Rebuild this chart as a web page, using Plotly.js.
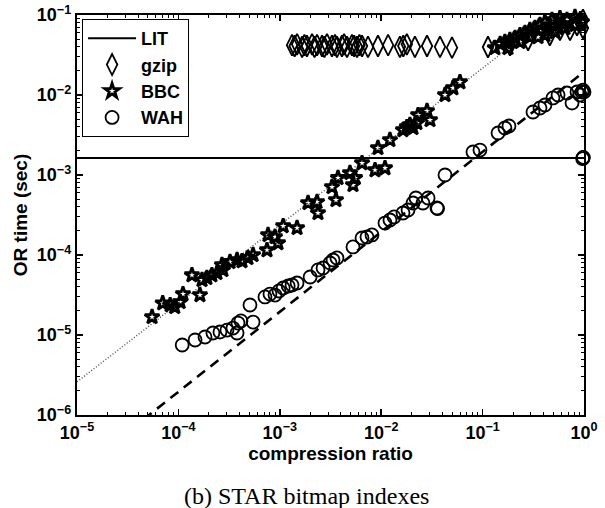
<!DOCTYPE html>
<html>
<head>
<meta charset="utf-8">
<script src="https://cdn.plot.ly/plotly-3.0.1.min.js"></script>
<style>
  html, body { margin: 0; padding: 0; background: #fff; }
  #chart { width: 605px; height: 508px; }
</style>
</head>
<body>
<div id="chart"></div>
<script>
// OR time vs. compression ratio, STAR bitmap indexes (log-log)

// LIT: constant reference time
const litX = [1e-5, 1];
const litY = [1.63e-3, 1.63e-3];

// gzip
const gzipX = [1.32e-3, 1.4e-3, 1.48e-3, 1.66e-3, 1.75e-3, 1.85e-3, 2.08e-3, 2.2e-3, 2.33e-3, 2.61e-3,
  2.75e-3, 2.92e-3, 3.27e-3, 3.5e-3, 3.66e-3, 4.1e-3, 4.3e-3, 4.6e-3, 5.15e-3, 5.4e-3,
  5.77e-3, 6.1e-3, 6.47e-3, 7.41e-3, 9.29e-3, 1.17e-2, 1.53e-2, 1.65e-2, 1.79e-2, 2.15e-2,
  2.83e-2, 3.8e-2, 4.99e-2,
  0.113, 0.186, 0.281, 0.46, 0.579, 0.728, 0.853, 0.914, 0.977, 0.977];
const gzipY = [0.042, 0.041, 0.043, 0.040, 0.042, 0.041, 0.043, 0.040, 0.042, 0.041,
  0.040, 0.043, 0.041, 0.042, 0.040, 0.041, 0.043, 0.040, 0.042, 0.041,
  0.040, 0.042, 0.041, 0.040, 0.041, 0.042, 0.040, 0.041, 0.043, 0.040,
  0.041, 0.040, 0.039,
  0.0398, 0.042, 0.0487, 0.0562, 0.065, 0.065, 0.075, 0.0818, 0.0866, 0.0688];

// BBC
const bbcX = [5.5e-5, 7.0e-5, 8.3e-5, 9.2e-5, 1.04e-4, 1.11e-4, 1.36e-4, 1.63e-4, 1.71e-4, 1.91e-4,
  2.14e-4, 2.40e-4, 2.69e-4, 2.75e-4, 3.23e-4, 3.79e-4, 4.24e-4, 4.85e-4, 5.45e-4, 7.48e-4,
  7.66e-4, 8.97e-4, 9.6e-4, 1.08e-3, 1.48e-3, 1.90e-3, 2.33e-3, 2.38e-3, 3.27e-3, 3.58e-3,
  3.75e-3, 4.92e-3, 5.27e-3, 5.52e-3, 6.47e-3, 8.69e-3, 1.09e-2, 9.29e-3, 1.22e-2, 1.64e-2,
  1.79e-2, 1.92e-2, 2.06e-2, 2.25e-2, 2.31e-2, 2.83e-2, 3.03e-2, 4.26e-2, 5.1e-2, 5.98e-2,
  0.132, 0.149, 0.166, 0.186, 0.209, 0.234, 0.262, 0.293, 0.329, 0.293,
  0.368, 0.412, 0.442, 0.483, 0.518, 0.579, 0.621, 0.679, 0.728, 0.815,
  0.873, 0.955, 0.955, 0.815, 0.65, 0.518, 0.412, 0.352, 0.234, 0.178];
const bbcY = [1.68e-5, 2.5e-5, 2.37e-5, 2.24e-5, 2.59e-5, 3.25e-5, 5.6e-5, 3.16e-5, 4.87e-5, 5.16e-5,
  5.6e-5, 5.96e-5, 7.5e-5, 6.5e-5, 8.2e-5, 8.66e-5, 8.4e-5, 9.2e-5, 1.0e-4, 1.15e-4,
  1.78e-4, 1.68e-4, 1.41e-4, 2.30e-4, 2.18e-4, 4.47e-4, 4.6e-4, 3.35e-4, 7.08e-4, 4.87e-4,
  9.2e-4, 1.06e-3, 7.5e-4, 9.2e-4, 1.41e-3, 1.15e-3, 1.22e-3, 2.18e-3, 2.74e-3, 3.65e-3,
  3.98e-3, 4.22e-3, 3.87e-3, 4.47e-3, 5.62e-3, 6.31e-3, 4.87e-3, 1.0e-2, 1.22e-2, 1.45e-2,
  0.0387, 0.0434, 0.046, 0.0487, 0.0516, 0.0562, 0.0596, 0.065, 0.0688, 0.0531,
  0.075, 0.0818, 0.065, 0.0866, 0.0729, 0.0917, 0.0772, 0.0866, 0.1, 0.0944,
  0.109, 0.103, 0.0818, 0.075, 0.0688, 0.0613, 0.0562, 0.0531, 0.046, 0.0387];

// WAH
const wahX = [1.09e-4, 1.46e-4, 1.83e-4, 2.19e-4, 2.57e-4, 3.01e-4, 3.45e-4, 3.79e-4, 3.87e-4, 4.14e-4,
  5.45e-4, 5.08e-4, 7.14e-4, 8.0e-4, 8.97e-4, 9.82e-4, 1.08e-3, 1.21e-3, 1.32e-3, 1.48e-3,
  1.99e-3, 2.38e-3, 2.67e-3, 3.13e-3, 3.35e-3, 3.66e-3, 5.27e-3, 6.47e-3, 7.24e-3, 8.11e-3,
  1.09e-2, 1.22e-2, 1.34e-2, 1.64e-2, 1.84e-2, 2.06e-2, 2.2e-2, 2.58e-2, 2.9e-2, 3.55e-2,
  3.6e-2, 4.26e-2, 8.04e-2, 9.42e-2, 0.142, 0.166, 0.182, 0.314, 0.368, 0.412,
  0.494, 0.555, 0.679, 0.762, 0.853, 0.955, 1.0, 0.977, 0.914, 0.977,
  0.985, 0.97];
const wahY = [7.5e-6, 8.66e-6, 9.44e-6, 1.06e-5, 1.09e-5, 1.15e-5, 1.22e-5, 1.06e-5, 1.41e-5, 1.5e-5,
  1.45e-5, 2.37e-5, 2.99e-5, 3.25e-5, 3.16e-5, 3.55e-5, 3.87e-5, 4.1e-5, 4.22e-5, 4.47e-5,
  5.31e-5, 6.5e-5, 6.88e-5, 7.94e-5, 8.66e-5, 9.18e-5, 1.26e-4, 1.63e-4, 1.68e-4, 1.78e-4,
  2.51e-4, 2.74e-4, 2.99e-4, 3.35e-4, 3.65e-4, 4.47e-4, 5.16e-4, 4.47e-4, 5.16e-4, 3.87e-4,
  3.8e-4, 1.0e-3, 1.94e-3, 2.05e-3, 3.35e-3, 3.87e-3, 4.1e-3, 6.13e-3, 6.88e-3, 7.5e-3,
  9.18e-3, 1.0e-2, 1.06e-2, 7.94e-3, 1.09e-2, 1.09e-2, 1.09e-2, 1.15e-2, 1.0e-2, 1.63e-3,
  1.66e-3, 1.6e-3];

// Power-law trend lines for BBC (dotted) and WAH (dashed)
const bbcFitX = [1e-5, 1];
const bbcFitY = [2.6e-6, 0.207];
const wahFitX = [1e-5, 1];
const wahFitY = [1.95e-7, 0.0195];

// Tick positions and labels
const xTickVals = [1e-5, 1e-4, 1e-3, 1e-2, 1e-1, 1];
const xTickText = ['10<sup>\u22125</sup>', '10<sup>\u22124</sup>', '10<sup>\u22123</sup>',
  '10<sup>\u22122</sup>', '10<sup>\u22121</sup>', '10<sup>0</sup>'];
const yTickVals = [1e-6, 1e-5, 1e-4, 1e-3, 1e-2, 1e-1];
const yTickText = ['10<sup>\u22126</sup>', '10<sup>\u22125</sup>', '10<sup>\u22124</sup>',
  '10<sup>\u22123</sup>', '10<sup>\u22122</sup>', '10<sup>\u22121</sup>'];

const sansBold = { family: 'Liberation Sans, Arial, sans-serif', size: 18, color: '#000', weight: 'bold' };

const traces = [
  { x: bbcFitX, y: bbcFitY, mode: 'lines', showlegend: false, hoverinfo: 'skip',
    line: { color: '#555', width: 1.5, dash: '1px,2px' } },
  { x: wahFitX, y: wahFitY, mode: 'lines', showlegend: false, hoverinfo: 'skip',
    line: { color: '#000', width: 2.6, dash: '10px,7px' } },
  { x: litX, y: litY, name: 'LIT', mode: 'lines',
    line: { color: '#000', width: 2 } },
  { x: gzipX, y: gzipY, name: 'gzip', mode: 'markers', cliponaxis: false,
    marker: { symbol: 'diamond-tall-open', size: 15, color: '#000', line: { width: 1.8, color: '#000' } } },
  { x: bbcX, y: bbcY, name: 'BBC', mode: 'markers', cliponaxis: false,
    marker: { symbol: 'star-open', size: 11, color: '#000', line: { width: 2.8, color: '#000' } } },
  { x: wahX, y: wahY, name: 'WAH', mode: 'markers', cliponaxis: false,
    marker: { symbol: 'circle-open', size: 13, color: '#000', line: { width: 1.8, color: '#000' } } }
];

const axisCommon = {
  type: 'log',
  tickmode: 'array',
  ticks: 'inside',
  ticklen: 6,
  tickwidth: 1.5,
  tickcolor: '#000',
  mirror: 'allticks',
  showline: true,
  linewidth: 2.2,
  linecolor: '#000',
  showgrid: false,
  zeroline: false,
  tickfont: sansBold,
  minor: { ticks: 'inside', ticklen: 3, tickwidth: 1, tickcolor: '#000', dtick: 'D1', showgrid: false }
};

const layout = {
  width: 605,
  height: 508,
  margin: { l: 77, r: 21, t: 15, b: 93 },
  paper_bgcolor: '#fff',
  plot_bgcolor: '#fff',
  showlegend: true,
  legend: {
    x: 0.01, y: 0.99, xanchor: 'left', yanchor: 'top',
    bgcolor: '#fff', bordercolor: '#000', borderwidth: 1,
    font: sansBold, tracegroupgap: 0,
    itemsizing: 'trace', itemwidth: 48
  },
  xaxis: Object.assign({}, axisCommon, {
    range: [-5, 0],
    tickvals: xTickVals,
    ticktext: xTickText,
    title: { text: 'compression ratio', font: Object.assign({}, sansBold, { size: 19 }), standoff: 2 }
  }),
  yaxis: Object.assign({}, axisCommon, {
    range: [-6, -1],
    tickvals: yTickVals,
    ticktext: yTickText,
    title: { text: 'OR time (sec)', font: Object.assign({}, sansBold, { size: 19 }), standoff: 4 }
  }),
  annotations: [{
    text: '(b) STAR bitmap indexes',
    xref: 'paper', yref: 'paper', x: 0.452, y: -0.2025,
    xanchor: 'center', yanchor: 'middle', showarrow: false,
    font: { family: 'Liberation Serif, Times New Roman, serif', size: 24, color: '#000' }
  }]
};

Plotly.newPlot('chart', traces, layout, { displayModeBar: false, staticPlot: true });
</script>
</body>
</html>
